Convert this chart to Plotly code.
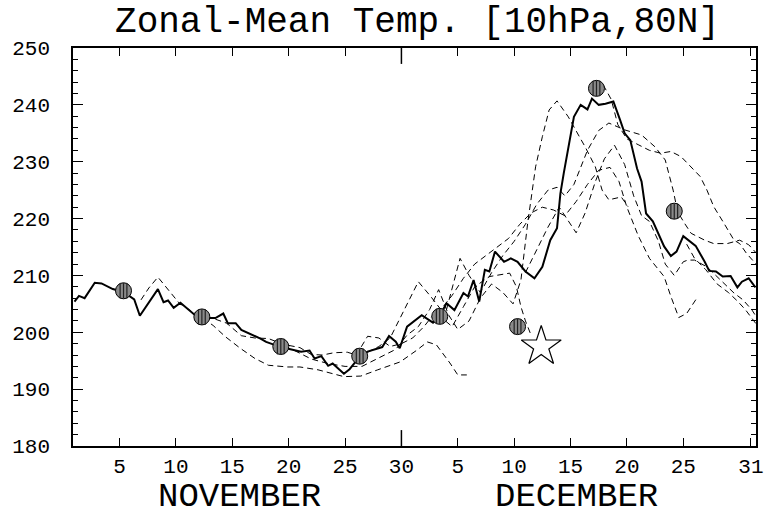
import plotly.graph_objects as go

# Day numbering: Nov d -> d, Dec d -> 30 + d
obs_day = [1.0, 1.4, 1.9, 2.8, 3.4, 4.4, 5.35, 6.3, 6.8, 8.4, 8.9, 9.3, 9.8, 10.4, 11.7, 12.3, 13.5, 14.2, 14.6,
           15.3, 15.8, 17.5, 18.0, 19.3, 21.1, 21.85, 22.3, 22.9, 23.5, 23.9, 24.9, 25.4, 26.3, 27.0, 28.3, 28.9,
           29.5, 29.85, 30.5, 31.8, 32.8, 33.4, 34.0, 34.7, 35.5, 35.9, 36.4, 36.9, 37.4, 37.8, 38.3, 39.1, 39.7,
           40.3, 41.0, 41.8, 42.5, 43.2, 43.8, 44.1, 44.4, 45.1, 45.3, 45.9, 46.5, 46.9, 47.5, 48.1, 48.8, 49.4,
           49.8, 50.3, 50.6, 50.9, 51.3, 51.7, 52.3, 52.9, 53.3, 53.9, 54.4, 55.0, 55.6, 56.1, 56.9, 57.3, 57.9,
           58.5, 59.2, 59.8, 60.2, 60.8, 61.4]
obs_temp = [205.4, 206.4, 206.0, 208.7, 208.6, 207.6, 207.1, 205.8, 202.9, 207.6, 205.3, 205.6, 204.3, 205.2,
            203.0, 202.5, 202.5, 203.3, 201.6, 201.6, 200.4, 198.9, 198.3, 197.4, 196.6, 196.8, 195.4, 195.8,
            194.1, 194.5, 192.7, 193.5, 195.7, 196.6, 197.4, 199.35, 198.35, 197.2, 201.0, 203.0, 201.7, 202.9,
            205.1, 203.9, 206.9, 206.3, 209.2, 205.4, 211.0, 210.7, 214.2, 212.4, 213.0, 212.4, 210.7, 209.5,
            211.5, 216.2, 218.3, 224.4, 228.0, 236.2, 237.9, 240.0, 239.2, 241.1, 240.0, 240.2, 240.6, 237.3,
            235.0, 233.8, 231.2, 228.8, 226.5, 220.9, 219.5, 216.8, 215.1, 213.4, 214.2, 216.9, 215.9, 215.2,
            212.4, 210.8, 210.7, 209.8, 209.9, 207.9, 208.9, 209.5, 207.9]

fc1_day = [6.9, 7.6, 8.4, 9.3, 10.3, 11.3, 12.3, 13.3, 14.4, 15.7, 17.0, 18.2, 19.9, 21.0, 22.6, 24.9, 26.4, 27.9,
           29.9, 31.4, 32.3, 33.1, 34.3, 35.0, 35.8]
fc1_temp = [205.7, 207.8, 209.7, 207.5, 205.1, 203.8, 202.6, 201.2, 199.2, 197.2, 195.4, 194.2, 193.9, 193.9,
            193.4, 192.2, 192.3, 193.4, 194.8, 196.9, 198.3, 197.8, 194.6, 192.5, 192.5]

fc2_day = [13.5, 14.5, 15.8, 17.0, 18.2, 19.5, 21.0, 22.0, 23.0, 24.0, 25.2, 26.0, 27.0, 28.0, 29.0, 30.0, 31.0,
           32.0, 33.0, 34.5, 35.5, 36.5, 37.8, 38.8, 39.6, 40.2, 40.6, 41.0, 41.5]
fc2_temp = [202.3, 201.6, 199.4, 199.0, 198.9, 197.9, 197.3, 196.1, 196.0, 196.4, 196.5, 196.0, 199.3, 199.0,
            197.5, 198.0, 199.0, 201.0, 203.5, 201.0, 204.5, 208.0, 209.8, 210.2, 210.4, 208.0, 204.5, 202.0, 199.5]

fc3_day = [20.5, 22.0, 23.5, 25.0, 26.5, 28.0, 29.5, 30.5, 31.5, 32.5, 33.3, 34.2, 35.0, 36.0, 37.0, 38.0, 39.0,
           39.9, 40.6, 41.2, 41.6, 41.9, 42.5, 43.1, 43.8, 44.8, 45.7, 46.3, 47.2, 47.8, 48.4, 49.5, 50.1]
fc3_temp = [196.8, 195.3, 194.5, 194.0, 194.0, 195.5, 197.0, 199.5, 201.0, 204.0, 207.5, 203.0, 200.5, 202.0,
            206.0, 208.5, 207.0, 205.0, 209.2, 219.2, 224.4, 229.1, 234.4, 239.1, 240.7, 237.9, 234.7, 232.6,
            229.1, 225.0, 223.3, 223.8, 222.1]

fc4_day = [27.0, 28.0, 29.0, 30.0, 31.5, 32.6, 33.5, 34.5, 35.5, 36.5, 37.5, 38.5, 39.5, 40.5, 41.5, 42.5, 43.5,
           44.5, 45.5, 46.5, 47.5, 48.5, 49.3, 50.0, 51.0, 52.0, 53.3, 53.9, 54.6, 55.3, 56.2]
fc4_temp = [196.5, 197.5, 199.0, 203.0, 208.9, 206.3, 204.0, 206.5, 209.5, 212.0, 213.5, 215.0, 216.5, 219.0,
            221.0, 222.0, 221.5, 220.5, 223.0, 226.0, 228.5, 229.0, 226.5, 222.0, 217.0, 213.0, 209.8, 206.3,
            202.6, 203.3, 206.0]

fc5_day = [34.0, 35.2, 36.0, 37.0, 38.0, 39.0, 40.0, 41.0, 42.0, 43.0, 43.8, 44.5, 45.3, 46.5, 47.5, 48.4, 49.8,
           51.3, 52.5, 53.4, 54.1, 54.5, 55.1, 55.7, 56.9, 57.7, 58.9, 60.0, 60.8, 61.45]
fc5_temp = [204.0, 213.0, 210.0, 207.0, 210.5, 213.5, 216.0, 219.0, 222.5, 225.0, 225.5, 224.0, 226.0, 232.0,
            235.5, 236.8, 235.6, 234.7, 232.6, 230.3, 225.0, 221.2, 219.2, 217.4, 216.2, 215.6, 215.6, 216.2,
            215.4, 214.0]

fc6_day = [41.0, 42.0, 43.0, 44.0, 45.0, 45.5, 46.3, 47.2, 48.0, 48.9, 49.8, 50.6, 51.3, 52.0, 52.8, 53.4, 54.2,
           55.0, 55.4, 56.0, 57.1, 58.3, 59.5, 60.3, 61.1, 61.45]
fc6_temp = [210.5, 214.5, 218.5, 222.0, 219.0, 217.5, 221.0, 226.5, 230.5, 232.9, 229.5, 224.0, 220.5, 219.5,
            216.0, 212.0, 210.0, 212.4, 212.7, 212.7, 211.5, 209.2, 206.9, 205.7, 203.9, 202.8]

fc7_day = [47.9, 48.6, 49.2, 50.0, 51.0, 52.0, 53.0, 53.9, 54.8, 55.7, 56.5, 57.1, 57.7, 58.6, 59.5, 60.0, 60.6,
           61.45]
fc7_temp = [243.5, 241.0, 236.5, 234.0, 233.0, 232.0, 231.5, 231.8, 230.9, 229.1, 227.4, 225.0, 222.1, 219.2,
            216.2, 215.6, 213.9, 212.0]

fc8_day = [55.3, 56.0, 57.0, 58.0, 59.0, 59.8, 60.5, 61.45]
fc8_temp = [215.5, 213.0, 211.0, 208.5, 207.0, 205.5, 204.0, 201.5]

circle_day = [5.35, 12.3, 19.3, 26.3, 33.4, 40.3, 47.3, 54.2]
circle_temp = [207.3, 202.7, 197.5, 195.8, 202.8, 201.0, 242.9, 221.3]

star_day = [42.4]
star_temp = [197.5]

tick_vals = [5, 10, 15, 20, 25, 30, 35, 40, 45, 50, 55, 61]
tick_text = ["5", "10", "15", "20", "25", "30", "5", "10", "15", "20", "25", "31"]
month_labels = ["NOVEMBER", "DECEMBER"]
month_pos = [15.6, 45.5]
month_boundary = 30

FONT = "Liberation Mono"

fig = go.Figure()

forecasts = [(fc1_day, fc1_temp), (fc2_day, fc2_temp), (fc3_day, fc3_temp), (fc4_day, fc4_temp),
             (fc5_day, fc5_temp), (fc6_day, fc6_temp), (fc7_day, fc7_temp), (fc8_day, fc8_temp)]
for d, t in forecasts:
    fig.add_trace(go.Scatter(x=d, y=t, mode="lines",
                             line=dict(color="black", width=1, dash="6px,4px"),
                             showlegend=False, hoverinfo="skip"))

fig.add_trace(go.Scatter(x=obs_day, y=obs_temp, mode="lines",
                         line=dict(color="black", width=2), showlegend=False))

fig.add_trace(go.Scatter(x=circle_day, y=circle_temp, mode="markers",
                         marker=dict(symbol="circle", size=16, color="#8a8a8a",
                                     line=dict(color="black", width=1)),
                         showlegend=False))
for off in (-0.3, 0.0, 0.3):
    fig.add_trace(go.Scatter(x=[d + off for d in circle_day], y=circle_temp, mode="markers",
                             marker=dict(symbol="line-ns", size=11,
                                         line=dict(color="#222222", width=1.2)),
                             showlegend=False, hoverinfo="skip"))

fig.add_trace(go.Scatter(x=star_day, y=star_temp, mode="markers",
                         marker=dict(symbol="star", size=30, color="white",
                                     line=dict(color="black", width=1.2)),
                         showlegend=False))

for yb, ye in ((0, 0.04), (1, 0.96)):
    fig.add_shape(type="line", xref="x", yref="paper", x0=month_boundary, x1=month_boundary,
                  y0=yb, y1=ye, line=dict(color="black", width=1.5))

for lab, pos in zip(month_labels, month_pos):
    fig.add_annotation(text=lab, x=pos, xref="x", y=-0.127, yref="paper", showarrow=False,
                       font=dict(family=FONT, size=34, color="black"), yanchor="middle")

fig.update_layout(
    width=772, height=517,
    margin=dict(l=73, r=9, t=48, b=71),
    paper_bgcolor="white", plot_bgcolor="white",
    title=dict(text="Zonal-Mean Temp. [10hPa,80N]", x=0.5408, xanchor="center",
               y=0.963, yanchor="middle", font=dict(family=FONT, size=36, color="black")),
    xaxis=dict(range=[0.87, 61.45], tickvals=tick_vals, ticktext=tick_text,
               ticks="inside", ticklen=8, tickwidth=1, tickcolor="black",
               showline=True, linecolor="black", linewidth=1.5, mirror="ticks",
               showgrid=False, zeroline=False, ticklabelstandoff=0,
               tickfont=dict(family=FONT, size=21, color="black")),
    yaxis=dict(range=[180, 250], dtick=10, tick0=180,
               ticks="inside", ticklen=10, tickwidth=1, tickcolor="black",
               minor=dict(dtick=2, ticks="inside", ticklen=5, tickcolor="black", tickwidth=1),
               showline=True, linecolor="black", linewidth=1.5, mirror="ticks",
               showgrid=False, zeroline=False, ticklabelstandoff=17,
               tickfont=dict(family=FONT, size=21, color="black")),
)

# remove the browser's default 8px body margin so the 772x517 figure fills the window exactly
fig.write_html("out.html", config={"displayModeBar": False},
               post_script="document.body.style.margin='0';document.body.style.overflow='hidden';")
